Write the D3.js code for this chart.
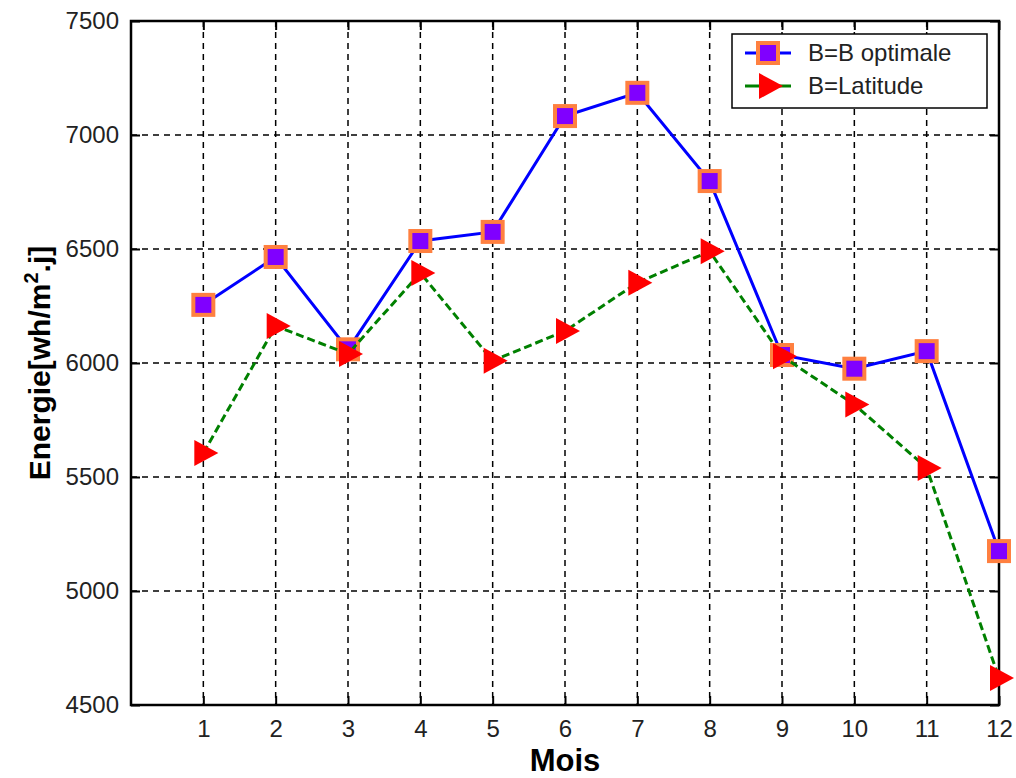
<!DOCTYPE html>
<html>
<head>
<meta charset="utf-8">
<script src="https://cdn.jsdelivr.net/npm/d3@7"></script>
<style>
  html, body { margin: 0; padding: 0; background: #fff; }
  svg text { font-family: "Liberation Sans", Arial, sans-serif; }
</style>
</head>
<body>
<div id="chart"></div>
<script>
// data
var mois = [1, 2, 3, 4, 5, 6, 7, 8, 9, 10, 11, 12];
var bOptimale = [6255, 6465, 6060, 6535, 6575, 7083, 7185, 6798, 6035, 5975, 6052, 5175];
var bLatitude = [5605, 6162, 6040, 6395, 6010, 6140, 6352, 6490, 6030, 5818, 5540, 4618];
var yTicks = [4500, 5000, 5500, 6000, 6500, 7000, 7500];
var seriesNames = ['B=B optimale', 'B=Latitude'];

var W = 1016, H = 778;
var margins = {left: 131, right: 17, top: 21, bottom: 73};
var width = W - margins.left - margins.right,
    height = H - margins.top - margins.bottom;

var vis = d3.select('#chart').append('svg')
    .attr('width', W)
    .attr('height', H);

var g = vis.append('g')
    .attr('transform', 'translate(' + margins.left + ',' + margins.top + ')');

var x = d3.scaleLinear().domain([0, 12]).range([0, width]);
var y = d3.scaleLinear().domain([4500, 7500]).range([height, 0]);

// grid
g.append('g').selectAll('line')
    .data(mois)
    .enter().append('line')
    .attr('x1', function(d) { return x(d); })
    .attr('x2', function(d) { return x(d); })
    .attr('y1', 0).attr('y2', height)
    .attr('stroke', '#000')
    .attr('stroke-width', 1.5)
    .attr('stroke-dasharray', '6,5');

g.append('g').selectAll('line')
    .data(yTicks.slice(1, -1))
    .enter().append('line')
    .attr('x1', 0).attr('x2', width)
    .attr('y1', function(d) { return y(d); })
    .attr('y2', function(d) { return y(d); })
    .attr('stroke', '#000')
    .attr('stroke-width', 1.5)
    .attr('stroke-dasharray', '6,5');

// axes (ticks inside, box)
var xAxis = g.append('g')
    .attr('transform', 'translate(0,' + height + ')')
    .call(d3.axisBottom(x).tickValues(mois).tickSizeInner(-9).tickSizeOuter(0).tickPadding(15));
var xTop = g.append('g')
    .call(d3.axisTop(x).tickValues(mois).tickSizeInner(-9).tickSizeOuter(0).tickFormat(''));
var yAxis = g.append('g')
    .call(d3.axisLeft(y).tickValues(yTicks).tickSizeInner(-9).tickSizeOuter(0).tickPadding(12)
        .tickFormat(d3.format('d')));
var yRight = g.append('g')
    .attr('transform', 'translate(' + width + ',0)')
    .call(d3.axisRight(y).tickValues(yTicks).tickSizeInner(-9).tickSizeOuter(0).tickFormat(''));

[xAxis, xTop, yAxis, yRight].forEach(function(a) {
    a.select('.domain').remove();
    a.selectAll('line').attr('stroke', '#000').attr('stroke-width', 2);
    a.selectAll('text')
        .attr('fill', '#222')
        .style('font-size', '24px')
        .style('font-family', '"Liberation Sans", Arial, sans-serif');
});

g.append('rect')
    .attr('width', width).attr('height', height)
    .attr('fill', 'none')
    .attr('stroke', '#000')
    .attr('stroke-width', 2.5);

// series
var line = d3.line()
    .x(function(d, i) { return x(mois[i]); })
    .y(function(d) { return y(d); });

function square(sel) {
    sel.append('rect')
        .attr('x', -10).attr('y', -10)
        .attr('width', 20).attr('height', 20)
        .attr('fill', '#8000ff')
        .attr('stroke', '#ff8040')
        .attr('stroke-width', 4);
}
function triangle(sel) {
    sel.append('path')
        .attr('d', 'M-9,-13L15,0L-9,13Z')
        .attr('fill', '#ff0000');
}

g.append('path')
    .datum(bOptimale)
    .attr('d', line)
    .attr('fill', 'none')
    .attr('stroke', '#0000ff')
    .attr('stroke-width', 3);

g.append('g').selectAll('g')
    .data(bOptimale)
    .enter().append('g')
    .attr('transform', function(d, i) { return 'translate(' + x(mois[i]) + ',' + y(d) + ')'; })
    .call(square);

g.append('path')
    .datum(bLatitude)
    .attr('d', line)
    .attr('fill', 'none')
    .attr('stroke', '#008000')
    .attr('stroke-width', 3)
    .attr('stroke-dasharray', '8,4');

g.append('g').selectAll('g')
    .data(bLatitude)
    .enter().append('g')
    .attr('transform', function(d, i) { return 'translate(' + x(mois[i]) + ',' + y(d) + ')'; })
    .call(triangle);

// legend
var legend = vis.append('g').attr('transform', 'translate(732,34)');
legend.append('rect')
    .attr('width', 255).attr('height', 74)
    .attr('fill', '#fff')
    .attr('stroke', '#000')
    .attr('stroke-width', 1.5);

var items = legend.selectAll('g.item')
    .data(seriesNames)
    .enter().append('g')
    .attr('class', 'item')
    .attr('transform', function(d, i) { return 'translate(0,' + (19 + i * 33) + ')'; });

items.append('line')
    .attr('x1', 13).attr('x2', 59)
    .attr('stroke', function(d, i) { return i ? '#008000' : '#0000ff'; })
    .attr('stroke-width', 3);

items.each(function(d, i) {
    var m = d3.select(this).append('g').attr('transform', 'translate(36,0)');
    if (i) triangle(m); else square(m);
});

items.append('text')
    .attr('x', 76)
    .attr('dy', '0.35em')
    .attr('fill', '#222')
    .style('font-size', '24px')
    .text(function(d) { return d; });

// axis titles
vis.append('text')
    .attr('x', margins.left + width / 2)
    .attr('y', 771)
    .attr('text-anchor', 'middle')
    .style('font-size', '31px')
    .style('font-weight', 'bold')
    .text('Mois');

var ylab = vis.append('text')
    .attr('transform', 'translate(50,' + (margins.top + height / 2) + ') rotate(-90)')
    .attr('text-anchor', 'middle')
    .style('font-size', '30px')
    .style('font-weight', 'bold');
ylab.append('tspan').text('Energie[wh/m');
ylab.append('tspan').attr('dy', -12).style('font-size', '20px').text('2');
ylab.append('tspan').attr('dy', 12).text('.j]');
</script>
</body>
</html>
